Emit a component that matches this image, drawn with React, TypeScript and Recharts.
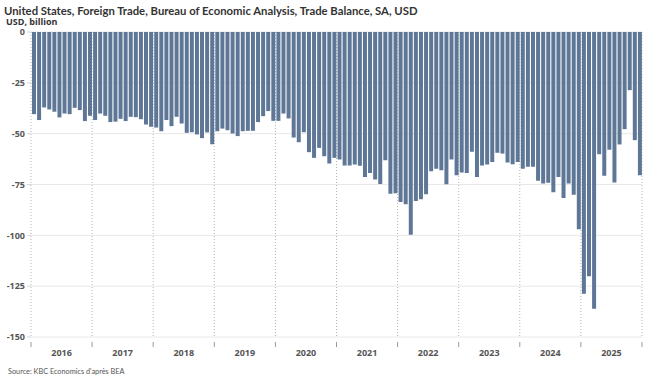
import React from 'react';
import { BarChart, Bar, XAxis, YAxis, CartesianGrid } from 'recharts';

const years = ['2016', '2017', '2018', '2019', '2020', '2021', '2022', '2023', '2024', '2025'];

// monthly trade balance, USD bn, Jan..Dec per year
const balance2016 = [-40.4, -43.3, -37.1, -38.1, -39.2, -42.0, -40.1, -40.4, -37.3, -38.4, -43.8, -41.2];
const balance2017 = [-43.3, -40.1, -41.2, -44.3, -44.1, -42.7, -43.8, -41.7, -41.9, -42.9, -45.5, -46.6];
const balance2018 = [-47.0, -48.8, -43.3, -46.3, -41.7, -45.0, -49.6, -49.3, -50.4, -52.2, -49.4, -55.2];
const balance2019 = [-48.8, -47.5, -48.3, -49.9, -51.2, -48.8, -48.6, -48.6, -44.3, -41.4, -38.9, -43.7];
const balance2020 = [-43.7, -40.1, -42.5, -51.9, -54.2, -49.3, -59.1, -61.9, -57.0, -61.1, -64.7, -61.9];
const balance2021 = [-62.7, -65.7, -65.7, -65.2, -65.8, -71.3, -69.3, -72.6, -74.7, -63.1, -79.5, -79.3];
const balance2022 = [-83.6, -84.7, -99.7, -83.1, -82.3, -79.8, -68.5, -67.2, -68.0, -74.9, -62.7, -70.4];
const balance2023 = [-69.1, -69.3, -58.9, -71.3, -65.7, -65.2, -63.9, -59.4, -59.8, -64.2, -65.0, -63.9];
const balance2024 = [-67.2, -66.3, -66.3, -73.2, -74.5, -74.1, -78.8, -71.3, -81.6, -74.5, -80.0, -97.0];
const balance2025 = [-128.7, -120.1, -136.1, -60.1, -70.7, -57.9, -74.0, -55.3, -47.8, -28.6, -53.2, -70.4];

const yTicks = [0, -25, -50, -75, -100, -125, -150];

const allValues = [
  ...balance2016, ...balance2017, ...balance2018, ...balance2019, ...balance2020,
  ...balance2021, ...balance2022, ...balance2023, ...balance2024, ...balance2025,
];

// month index as a number, bar centred in its month slot
const data = allValues.map((v, i) => ({ m: i + 0.5, value: v }));
const yearEdges = years.map((_, i) => i * 12).concat(years.length * 12);
const yearMids = years.map((_, i) => i * 12 + 6);

const font = '"Open Sans", "DejaVu Sans", sans-serif';
const narrow = 'Lato, "Open Sans", sans-serif';

const EdgeTick = (props: any) => {
  const { x, y } = props;
  return <line x1={x} x2={x} y1={y - 3} y2={y + 2} stroke="#9a9a9a" strokeWidth={1} />;
};

export default function App() {
  return (
    <div style={{ position: 'absolute', left: 0, top: 0, width: 652, height: 385, background: '#fff', fontFamily: font }}>
      <div style={{ position: 'absolute', left: 4, top: 5, fontSize: 11.3, lineHeight: 1, fontWeight: 700, color: '#333', whiteSpace: 'nowrap', fontFamily: narrow }}>
        United States, Foreign Trade, Bureau of Economic Analysis, Trade Balance, SA, USD
      </div>
      <div style={{ position: 'absolute', left: 6, top: 16.8, fontSize: 9, lineHeight: 1, fontWeight: 700, color: '#333', whiteSpace: 'nowrap' }}>
        USD, billion
      </div>

      <BarChart
        width={652}
        height={385}
        data={data}
        margin={{ top: 32, right: 10, bottom: 18, left: 0 }}
        style={{ position: 'absolute', left: 0, top: 0 }}
      >
        <CartesianGrid xAxisId="m" vertical={false} stroke="#e8e8e8" />
        <CartesianGrid xAxisId="m" horizontal={false} stroke="#b5b5b5" strokeDasharray="1 2" />
        <XAxis
          xAxisId="m"
          dataKey="m"
          type="number"
          domain={[0, 120]}
          ticks={yearEdges}
          interval={0}
          axisLine={false}
          tickLine={false}
          height={10}
          tick={<EdgeTick />}
        />
        <XAxis
          xAxisId="y"
          dataKey="m"
          type="number"
          domain={[0, 120]}
          ticks={yearMids}
          interval={0}
          axisLine={false}
          tickLine={false}
          tickSize={0}
          tickMargin={3}
          height={20}
          tickFormatter={(v: number) => years[Math.floor(v / 12)]}
          tick={{ fill: '#555', fontSize: 9, fontWeight: 700, fontFamily: font }}
        />
        <YAxis
          type="number"
          domain={[-150, 0]}
          ticks={yTicks}
          interval={0}
          width={31}
          axisLine={false}
          tickLine={{ stroke: '#d8d8d8' }}
          tickSize={4}
          tickMargin={2}
          tick={{ fill: '#555', fontSize: 9, fontWeight: 700, fontFamily: font }}
        />
        <Bar xAxisId="m" dataKey="value" fill="#5f7797" barSize={4} isAnimationActive={false} />
      </BarChart>

      <div style={{ position: 'absolute', left: 8, top: 368, fontSize: 7.3, lineHeight: 1, color: '#555', whiteSpace: 'nowrap', fontFamily: narrow }}>
        Source: KBC Economics d'après BEA
      </div>
    </div>
  );
}
